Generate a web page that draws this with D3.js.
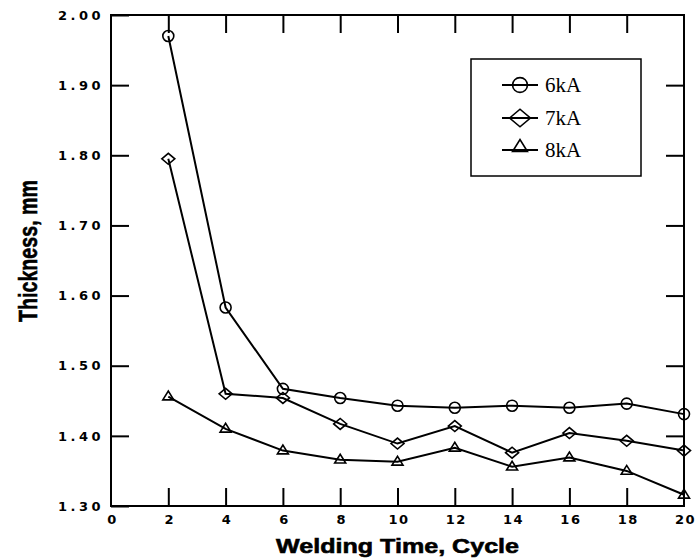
<!DOCTYPE html>
<html>
<head>
<meta charset="utf-8">
<script src="https://cdn.jsdelivr.net/npm/d3@7"></script>
<style>
  html, body { margin: 0; padding: 0; background: #fff; }
  svg { display: block; }
</style>
</head>
<body>
<svg id="chart" width="700" height="560"></svg>
<script>
// ---- data ----
const weldingTime = [2, 4, 6, 8, 10, 12, 14, 16, 18, 20];
const series6kA = [1.970, 1.583, 1.467, 1.454, 1.443, 1.440, 1.443, 1.440, 1.446, 1.431];
const series7kA = [1.795, 1.460, 1.454, 1.417, 1.389, 1.414, 1.376, 1.404, 1.393, 1.379];
const series8kA = [1.456, 1.410, 1.379, 1.366, 1.363, 1.383, 1.356, 1.369, 1.350, 1.316];
const seriesNames = ["6kA", "7kA", "8kA"];
const xTicks = [0, 2, 4, 6, 8, 10, 12, 14, 16, 18, 20];
const yTicks = [1.30, 1.40, 1.50, 1.60, 1.70, 1.80, 1.90, 2.00];
const xTitle = "Welding Time, Cycle";
const yTitle = "Thickness, mm";

// ---- layout ----
const svg = d3.select("#chart");
const L = 111, R = 684, T = 15, B = 506;
const x = d3.scaleLinear().domain([0, 20]).range([L, R]);
const y = d3.scaleLinear().domain([1.30, 2.00]).range([B, T]);
const tick = 18;

svg.append("rect").attr("width", 700).attr("height", 560).attr("fill", "#fff");

// frame
svg.append("rect")
  .attr("x", L).attr("y", T).attr("width", R - L).attr("height", B - T)
  .attr("fill", "none").attr("stroke", "#000").attr("stroke-width", 2);

const labelFont = "'DejaVu Sans', 'Liberation Sans', Arial, sans-serif";
const titleFont = "'Liberation Sans', Arial, sans-serif";

// bottom axis
const gx = svg.append("g").attr("transform", `translate(0,${B})`)
  .call(d3.axisBottom(x).tickValues(xTicks).tickFormat(d3.format("d"))
    .tickSizeInner(-tick).tickSizeOuter(0).tickPadding(9));
// left axis
const gy = svg.append("g").attr("transform", `translate(${L},0)`)
  .call(d3.axisLeft(y).tickValues(yTicks).tickFormat(d3.format(".2f"))
    .tickSizeInner(-tick).tickSizeOuter(0).tickPadding(7));
// top axis (no labels)
const gt = svg.append("g").attr("transform", `translate(0,${T})`)
  .call(d3.axisTop(x).tickValues(xTicks.slice(1, -1)).tickFormat("")
    .tickSizeInner(-tick).tickSizeOuter(0));
// right axis (no labels)
const gr = svg.append("g").attr("transform", `translate(${R},0)`)
  .call(d3.axisRight(y).tickValues(yTicks.slice(1, -1)).tickFormat("")
    .tickSizeInner(-tick).tickSizeOuter(0));

[gx, gy, gt, gr].forEach(g => {
  g.select(".domain").remove();
  g.selectAll(".tick line").attr("stroke", "#000").attr("stroke-width", 2);
});
gx.selectAll(".tick").filter(d => d === 0 || d === 20).select("line").remove();
gx.selectAll("text")
  .attr("fill", "#000").attr("font-family", labelFont).attr("font-weight", "bold")
  .attr("font-size", 13).style("letter-spacing", "1.5px").attr("dx", "1px");
gy.selectAll("text")
  .attr("fill", "#000").attr("font-family", labelFont).attr("font-weight", "bold")
  .attr("font-size", 13).style("letter-spacing", "3.5px");

// axis titles
svg.append("text")
  .attr("x", (L + R) / 2).attr("y", 553)
  .attr("text-anchor", "middle")
  .attr("font-family", titleFont).attr("font-weight", "bold").attr("font-size", 21)
  .attr("stroke", "#000").attr("stroke-width", 0.6)
  .attr("textLength", 243).attr("lengthAdjust", "spacingAndGlyphs")
  .text(xTitle);

svg.append("text")
  .attr("transform", "translate(37,251) rotate(-90)")
  .attr("text-anchor", "middle")
  .attr("font-family", titleFont).attr("font-weight", "bold").attr("font-size", 25)
  .attr("stroke", "#000").attr("stroke-width", 0.6)
  .attr("textLength", 142).attr("lengthAdjust", "spacingAndGlyphs")
  .text(yTitle);

// ---- series ----
const allSeries = [series6kA, series7kA, series8kA];
const shapes = ["circle", "diamond", "triangle"];

function drawMarker(g, shape, cx, cy, s) {
  if (shape === "circle") {
    g.append("circle").attr("cx", cx).attr("cy", cy).attr("r", 5.5 * s)
      .attr("fill", "none").attr("stroke", "#000").attr("stroke-width", 1.6);
  } else if (shape === "diamond") {
    const w = 6.5 * s, h = 5.5 * s;
    g.append("path")
      .attr("d", `M${cx - w},${cy} L${cx},${cy - h} L${cx + w},${cy} L${cx},${cy + h} Z`)
      .attr("fill", "none").attr("stroke", "#000").attr("stroke-width", 1.6);
  } else {
    const w = 5.5 * s, h = 5.5 * s;
    g.append("path")
      .attr("d", `M${cx - w},${cy + h * 0.6} L${cx},${cy - h} L${cx + w},${cy + h * 0.6} Z`)
      .attr("fill", "none").attr("stroke", "#000").attr("stroke-width", 1.6);
  }
}

const line = d3.line().x(d => x(d[0])).y(d => y(d[1])).curve(d3.curveLinear);
const gs = svg.append("g");
allSeries.forEach((vals, i) => {
  const pts = weldingTime.map((t, j) => [t, vals[j]]);
  gs.append("path").attr("d", line(pts))
    .attr("fill", "none").attr("stroke", "#000").attr("stroke-width", 2);
  const gm = gs.append("g");
  pts.forEach(p => drawMarker(gm, shapes[i], x(p[0]), y(p[1]), 1));
});

// ---- legend ----
const lg = svg.append("g");
lg.append("rect").attr("x", 471).attr("y", 59).attr("width", 170).attr("height", 117)
  .attr("fill", "#fff").attr("stroke", "#000").attr("stroke-width", 1.5);
const legendY = [85, 118, 150];
seriesNames.forEach((name, i) => {
  const yy = legendY[i];
  lg.append("line").attr("x1", 502).attr("x2", 538).attr("y1", yy).attr("y2", yy)
    .attr("stroke", "#000").attr("stroke-width", 2);
  drawMarker(lg, shapes[i], 520, i === 2 ? yy - 3 : yy, i === 1 ? 1.6 : 1.35);
  lg.append("text").attr("x", 545).attr("y", yy + 7)
    .attr("font-family", "'Liberation Serif', 'Times New Roman', serif")
    .attr("font-size", 21).attr("fill", "#000")
    .text(name);
});
</script>
</body>
</html>
